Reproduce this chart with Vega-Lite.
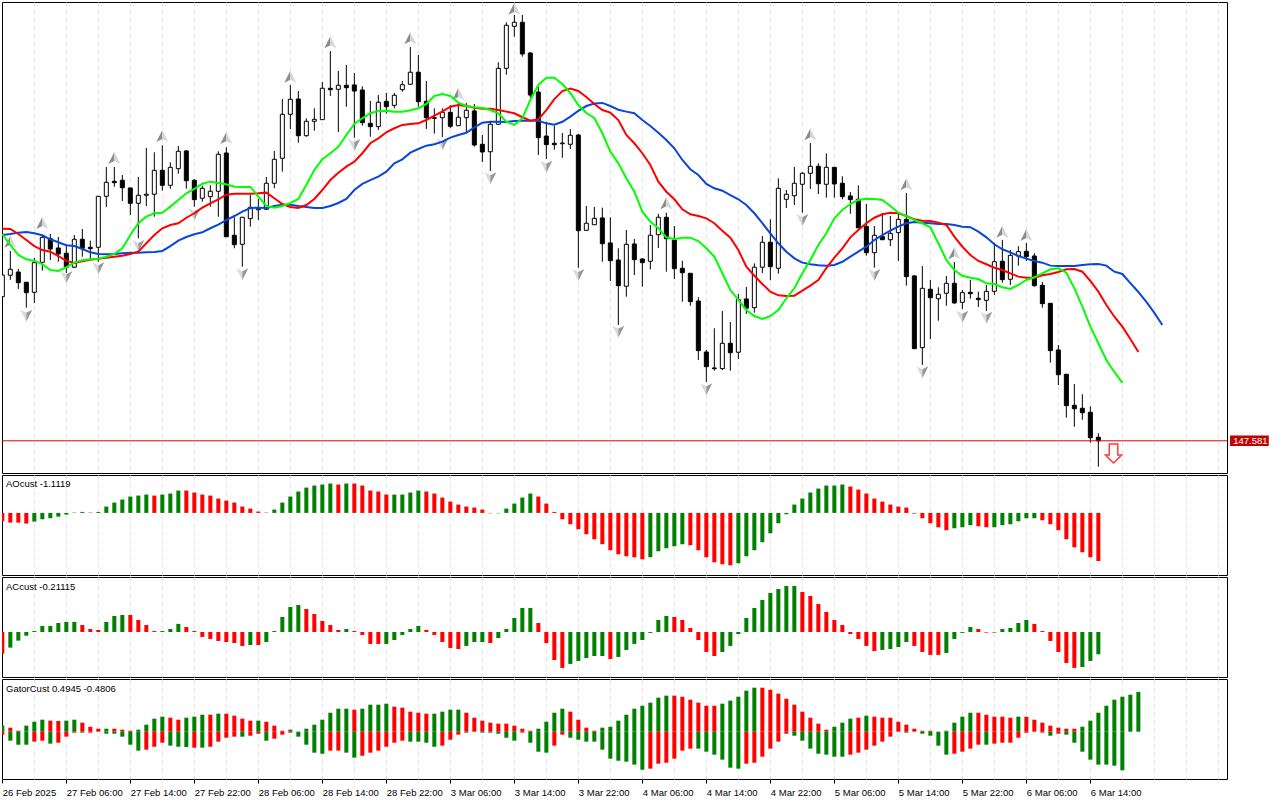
{
"$schema":"https://vega.github.io/schema/vega-lite/v6.json",
"padding":{"left":1,"top":1,"right":0,"bottom":0},
"background":"white",
"spacing":2,
"bounds":"flush",
"config":{"view":{"stroke":"#000000","strokeWidth":1,"fill":"white"},"font":"Liberation Sans","axis":{"labelFont":"Liberation Sans","labelFontSize":9.5,"labelColor":"#000000","gridColor":"#e4e4e4","gridDash":[4,4],"gridWidth":1,"tickColor":"#000000","domain":false,"title":null,"labelOverlap":false,"labelBound":false,"labelFlush":false}},
"datasets":{
"candles":[
{"i":0,"o":148.839,"h":149.054,"l":148.827,"c":149.028},{"i":1,"o":149.026,"h":149.238,"l":148.985,"c":149.078},{"i":2,"o":149.054,"h":149.081,"l":148.906,"c":148.961},{"i":3,"o":148.965,"h":148.967,"l":148.743,"c":148.874},{"i":4,"o":148.877,"h":149.177,"l":148.784,"c":149.136},{"i":5,"o":149.139,"h":149.377,"l":149.066,"c":149.357},{"i":6,"o":149.345,"h":149.386,"l":149.159,"c":149.255},{"i":7,"o":149.264,"h":149.36,"l":149.144,"c":149.212},{"i":8,"o":149.218,"h":149.281,"l":149.046,"c":149.096},{"i":9,"o":149.096,"h":149.377,"l":149.089,"c":149.34},
{"i":10,"o":149.34,"h":149.43,"l":149.188,"c":149.261},{"i":11,"o":149.27,"h":149.328,"l":149.159,"c":149.258},{"i":12,"o":149.27,"h":149.718,"l":149.144,"c":149.715},{"i":13,"o":149.715,"h":149.971,"l":149.622,"c":149.837},{"i":14,"o":149.846,"h":149.971,"l":149.799,"c":149.834},{"i":15,"o":149.855,"h":149.901,"l":149.674,"c":149.79},{"i":16,"o":149.788,"h":149.788,"l":149.552,"c":149.654},{"i":17,"o":149.654,"h":149.884,"l":149.349,"c":149.724},{"i":18,"o":149.724,"h":150.137,"l":149.63,"c":149.733},{"i":19,"o":149.733,"h":150.099,"l":149.537,"c":149.942},
{"i":20,"o":149.942,"h":150.16,"l":149.764,"c":149.811},{"i":21,"o":149.811,"h":150.012,"l":149.781,"c":149.968},{"i":22,"o":149.956,"h":150.154,"l":149.912,"c":150.108},{"i":23,"o":150.111,"h":150.119,"l":149.782,"c":149.851},{"i":24,"o":149.855,"h":149.864,"l":149.624,"c":149.686},{"i":25,"o":149.698,"h":149.808,"l":149.668,"c":149.785},{"i":26,"o":149.712,"h":149.811,"l":149.624,"c":149.759},{"i":27,"o":149.759,"h":150.108,"l":149.537,"c":150.082},{"i":28,"o":150.093,"h":150.143,"l":149.36,"c":149.362},{"i":29,"o":149.375,"h":149.532,"l":149.261,"c":149.293},
{"i":30,"o":149.296,"h":149.535,"l":149.101,"c":149.532},{"i":31,"o":149.52,"h":149.727,"l":149.45,"c":149.619},{"i":32,"o":149.598,"h":149.692,"l":149.508,"c":149.607},{"i":33,"o":149.602,"h":149.884,"l":149.596,"c":149.829},{"i":34,"o":149.829,"h":150.111,"l":149.785,"c":150.038},{"i":35,"o":150.047,"h":150.564,"l":149.93,"c":150.431},{"i":36,"o":150.431,"h":150.687,"l":150.303,"c":150.562},{"i":37,"o":150.564,"h":150.634,"l":150.183,"c":150.244},{"i":38,"o":150.244,"h":150.396,"l":150.235,"c":150.37},{"i":39,"o":150.37,"h":150.483,"l":150.288,"c":150.387},
{"i":40,"o":150.384,"h":150.713,"l":150.381,"c":150.658},{"i":41,"o":150.658,"h":150.983,"l":150.591,"c":150.646},{"i":42,"o":150.649,"h":150.809,"l":150.276,"c":150.684},{"i":43,"o":150.684,"h":150.861,"l":150.497,"c":150.663},{"i":44,"o":150.687,"h":150.791,"l":150.227,"c":150.634},{"i":45,"o":150.643,"h":150.675,"l":150.331,"c":150.358},{"i":46,"o":150.352,"h":150.547,"l":150.235,"c":150.323},{"i":47,"o":150.323,"h":150.599,"l":150.294,"c":150.536},{"i":48,"o":150.544,"h":150.617,"l":150.436,"c":150.497},{"i":49,"o":150.509,"h":150.617,"l":150.483,"c":150.597},
{"i":50,"o":150.646,"h":150.721,"l":150.628,"c":150.689},{"i":51,"o":150.693,"h":151.018,"l":150.689,"c":150.798},{"i":52,"o":150.798,"h":150.948,"l":150.497,"c":150.541},{"i":53,"o":150.544,"h":150.721,"l":150.303,"c":150.401},{"i":54,"o":150.401,"h":150.483,"l":150.262,"c":150.396},{"i":55,"o":150.401,"h":150.483,"l":150.233,"c":150.448},{"i":56,"o":150.448,"h":150.512,"l":150.309,"c":150.326},{"i":57,"o":150.331,"h":150.53,"l":150.329,"c":150.405},{"i":58,"o":150.401,"h":150.53,"l":150.276,"c":150.466},{"i":59,"o":150.46,"h":150.521,"l":150.148,"c":150.163},
{"i":60,"o":150.169,"h":150.25,"l":150.015,"c":150.102},{"i":61,"o":150.104,"h":150.366,"l":149.936,"c":150.344},{"i":62,"o":150.344,"h":150.885,"l":150.338,"c":150.832},{"i":63,"o":150.832,"h":151.234,"l":150.776,"c":151.208},{"i":64,"o":151.199,"h":151.298,"l":151.108,"c":151.234},{"i":65,"o":151.234,"h":151.298,"l":150.934,"c":150.957},{"i":66,"o":150.966,"h":150.972,"l":150.576,"c":150.599},{"i":67,"o":150.625,"h":150.672,"l":150.076,"c":150.227},{"i":68,"o":150.241,"h":150.366,"l":150.041,"c":150.166},{"i":69,"o":150.178,"h":150.331,"l":150.122,"c":150.166},
{"i":70,"o":150.174,"h":150.268,"l":150.051,"c":150.18},{"i":71,"o":150.169,"h":150.303,"l":150.128,"c":150.248},{"i":72,"o":150.25,"h":150.259,"l":149.092,"c":149.415},{"i":73,"o":149.418,"h":149.631,"l":149.415,"c":149.48},{"i":74,"o":149.467,"h":149.622,"l":149.465,"c":149.523},{"i":75,"o":149.526,"h":149.616,"l":149.144,"c":149.301},{"i":76,"o":149.308,"h":149.532,"l":148.976,"c":149.153},{"i":77,"o":149.159,"h":149.261,"l":148.592,"c":148.935},{"i":78,"o":148.93,"h":149.421,"l":148.839,"c":149.296},{"i":79,"o":149.299,"h":149.343,"l":149.028,"c":149.162},
{"i":80,"o":149.168,"h":149.174,"l":148.926,"c":149.136},{"i":81,"o":149.148,"h":149.465,"l":149.078,"c":149.375},{"i":82,"o":149.38,"h":149.561,"l":149.264,"c":149.532},{"i":83,"o":149.532,"h":149.572,"l":149.057,"c":149.345},{"i":84,"o":149.334,"h":149.456,"l":148.993,"c":149.083},{"i":85,"o":149.087,"h":149.153,"l":148.795,"c":149.048},{"i":86,"o":149.043,"h":149.046,"l":148.76,"c":148.796},{"i":87,"o":148.801,"h":148.834,"l":148.286,"c":148.368},{"i":88,"o":148.356,"h":148.374,"l":148.094,"c":148.228},{"i":89,"o":148.217,"h":148.563,"l":148.193,"c":148.211},
{"i":90,"o":148.211,"h":148.714,"l":148.199,"c":148.432},{"i":91,"o":148.432,"h":148.618,"l":148.193,"c":148.35},{"i":92,"o":148.354,"h":148.862,"l":148.295,"c":148.813},{"i":93,"o":148.819,"h":148.924,"l":148.688,"c":148.738},{"i":94,"o":148.743,"h":149.13,"l":148.699,"c":149.096},{"i":95,"o":149.096,"h":149.369,"l":149.046,"c":149.314},{"i":96,"o":149.314,"h":149.514,"l":148.982,"c":149.101},{"i":97,"o":149.087,"h":149.872,"l":149.04,"c":149.785},{"i":98,"o":149.689,"h":149.77,"l":149.613,"c":149.733},{"i":99,"o":149.72,"h":149.971,"l":149.639,"c":149.829},
{"i":100,"o":149.82,"h":149.925,"l":149.572,"c":149.916},{"i":101,"o":149.916,"h":150.18,"l":149.779,"c":149.977},{"i":102,"o":149.977,"h":150.003,"l":149.735,"c":149.825},{"i":103,"o":149.82,"h":150.09,"l":149.703,"c":149.968},{"i":104,"o":149.968,"h":149.971,"l":149.703,"c":149.823},{"i":105,"o":149.829,"h":149.89,"l":149.689,"c":149.712},{"i":106,"o":149.718,"h":149.753,"l":149.563,"c":149.686},{"i":107,"o":149.689,"h":149.811,"l":149.439,"c":149.439},{"i":108,"o":149.453,"h":149.648,"l":149.197,"c":149.223},{"i":109,"o":149.223,"h":149.456,"l":149.092,"c":149.375},
{"i":110,"o":149.363,"h":149.569,"l":149.336,"c":149.336},{"i":111,"o":149.336,"h":149.543,"l":149.281,"c":149.392},{"i":112,"o":149.398,"h":149.578,"l":149.151,"c":149.514},{"i":113,"o":149.514,"h":149.744,"l":148.935,"c":149.014},{"i":114,"o":149.02,"h":149.026,"l":148.382,"c":148.385},{"i":115,"o":148.394,"h":149.107,"l":148.243,"c":148.912},{"i":116,"o":148.904,"h":148.985,"l":148.47,"c":148.83},{"i":117,"o":148.821,"h":148.921,"l":148.629,"c":148.86},{"i":118,"o":148.869,"h":149.02,"l":148.76,"c":148.956},{"i":119,"o":148.956,"h":149.142,"l":148.778,"c":148.784},
{"i":120,"o":148.79,"h":148.897,"l":148.732,"c":148.874},{"i":121,"o":148.877,"h":148.985,"l":148.822,"c":148.865},{"i":122,"o":148.825,"h":148.883,"l":148.749,"c":148.813},{"i":123,"o":148.807,"h":148.941,"l":148.714,"c":148.886},{"i":124,"o":148.886,"h":149.31,"l":148.854,"c":149.144},{"i":125,"o":149.148,"h":149.334,"l":148.961,"c":148.988},{"i":126,"o":148.991,"h":149.246,"l":148.941,"c":149.2},{"i":127,"o":149.194,"h":149.279,"l":149.11,"c":149.232},{"i":128,"o":149.235,"h":149.308,"l":149.151,"c":149.188},{"i":129,"o":149.194,"h":149.218,"l":148.926,"c":148.935},
{"i":130,"o":148.938,"h":148.967,"l":148.743,"c":148.778},{"i":131,"o":148.781,"h":148.784,"l":148.263,"c":148.368},{"i":132,"o":148.374,"h":148.417,"l":148.068,"c":148.158},{"i":133,"o":148.162,"h":148.164,"l":147.783,"c":147.888},{"i":134,"o":147.891,"h":148.077,"l":147.704,"c":147.861},{"i":135,"o":147.865,"h":147.987,"l":147.765,"c":147.826},{"i":136,"o":147.83,"h":147.882,"l":147.565,"c":147.608},{"i":137,"o":147.612,"h":147.647,"l":147.355,"c":147.581}
],
"ma":[
{"i":0,"jaw":149.377,"teeth":149.432,"lips":149.384},{"i":1,"jaw":149.386,"teeth":149.43,"lips":149.29},{"i":2,"jaw":149.398,"teeth":149.386,"lips":149.203},{"i":3,"jaw":149.404,"teeth":149.334,"lips":149.165},{"i":4,"jaw":149.392,"teeth":149.281,"lips":149.151},{"i":5,"jaw":149.375,"teeth":149.246,"lips":149.124},{"i":6,"jaw":149.34,"teeth":149.232,"lips":149.072},{"i":7,"jaw":149.314,"teeth":149.194,"lips":149.063},{"i":8,"jaw":149.288,"teeth":149.151,"lips":149.096},{"i":9,"jaw":149.281,"teeth":149.133,"lips":149.136},
{"i":10,"jaw":149.255,"teeth":149.148,"lips":149.157},{"i":11,"jaw":149.226,"teeth":149.162,"lips":149.165},{"i":12,"jaw":149.212,"teeth":149.171,"lips":149.171},{"i":13,"jaw":149.209,"teeth":149.179,"lips":149.188},{"i":14,"jaw":149.212,"teeth":149.188,"lips":149.212},{"i":15,"jaw":149.218,"teeth":149.197,"lips":149.261},{"i":16,"jaw":149.223,"teeth":149.212,"lips":149.377},{"i":17,"jaw":149.223,"teeth":149.232,"lips":149.48},{"i":18,"jaw":149.226,"teeth":149.305,"lips":149.537},{"i":19,"jaw":149.229,"teeth":149.377,"lips":149.567},
{"i":20,"jaw":149.238,"teeth":149.436,"lips":149.572},{"i":21,"jaw":149.281,"teeth":149.465,"lips":149.625},{"i":22,"jaw":149.328,"teeth":149.48,"lips":149.683},{"i":23,"jaw":149.36,"teeth":149.528,"lips":149.741},{"i":24,"jaw":149.384,"teeth":149.567,"lips":149.779},{"i":25,"jaw":149.401,"teeth":149.616,"lips":149.825},{"i":26,"jaw":149.436,"teeth":149.654,"lips":149.843},{"i":27,"jaw":149.467,"teeth":149.689,"lips":149.831},{"i":28,"jaw":149.508,"teeth":149.729,"lips":149.82},{"i":29,"jaw":149.543,"teeth":149.738,"lips":149.799},
{"i":30,"jaw":149.581,"teeth":149.738,"lips":149.796},{"i":31,"jaw":149.613,"teeth":149.738,"lips":149.799},{"i":32,"jaw":149.616,"teeth":149.741,"lips":149.712},{"i":33,"jaw":149.613,"teeth":149.747,"lips":149.631},{"i":34,"jaw":149.631,"teeth":149.698,"lips":149.616},{"i":35,"jaw":149.642,"teeth":149.648,"lips":149.631},{"i":36,"jaw":149.642,"teeth":149.622,"lips":149.657},{"i":37,"jaw":149.631,"teeth":149.613,"lips":149.692},{"i":38,"jaw":149.622,"teeth":149.639,"lips":149.814},{"i":39,"jaw":149.613,"teeth":149.692,"lips":149.945},
{"i":40,"jaw":149.613,"teeth":149.77,"lips":150.038},{"i":41,"jaw":149.631,"teeth":149.857,"lips":150.091},{"i":42,"jaw":149.657,"teeth":149.921,"lips":150.148},{"i":43,"jaw":149.692,"teeth":149.974,"lips":150.25},{"i":44,"jaw":149.77,"teeth":150.017,"lips":150.346},{"i":45,"jaw":149.823,"teeth":150.091,"lips":150.396},{"i":46,"jaw":149.857,"teeth":150.178,"lips":150.44},{"i":47,"jaw":149.886,"teeth":150.221,"lips":150.46},{"i":48,"jaw":149.93,"teeth":150.274,"lips":150.462},{"i":49,"jaw":150.003,"teeth":150.309,"lips":150.454},
{"i":50,"jaw":150.038,"teeth":150.338,"lips":150.454},{"i":51,"jaw":150.096,"teeth":150.346,"lips":150.466},{"i":52,"jaw":150.128,"teeth":150.352,"lips":150.483},{"i":53,"jaw":150.157,"teeth":150.381,"lips":150.521},{"i":54,"jaw":150.169,"teeth":150.419,"lips":150.591},{"i":55,"jaw":150.192,"teeth":150.454,"lips":150.608},{"i":56,"jaw":150.227,"teeth":150.497,"lips":150.591},{"i":57,"jaw":150.25,"teeth":150.512,"lips":150.532},{"i":58,"jaw":150.27,"teeth":150.503,"lips":150.503},{"i":59,"jaw":150.317,"teeth":150.488,"lips":150.492},
{"i":60,"jaw":150.358,"teeth":150.48,"lips":150.486},{"i":61,"jaw":150.366,"teeth":150.48,"lips":150.468},{"i":62,"jaw":150.366,"teeth":150.468,"lips":150.44},{"i":63,"jaw":150.364,"teeth":150.454,"lips":150.366},{"i":64,"jaw":150.372,"teeth":150.44,"lips":150.338},{"i":65,"jaw":150.375,"teeth":150.405,"lips":150.396},{"i":66,"jaw":150.375,"teeth":150.375,"lips":150.556},{"i":67,"jaw":150.375,"teeth":150.387,"lips":150.687},{"i":68,"jaw":150.352,"teeth":150.468,"lips":150.75},{"i":69,"jaw":150.34,"teeth":150.564,"lips":150.75},
{"i":70,"jaw":150.366,"teeth":150.634,"lips":150.695},{"i":71,"jaw":150.41,"teeth":150.656,"lips":150.617},{"i":72,"jaw":150.46,"teeth":150.634,"lips":150.512},{"i":73,"jaw":150.503,"teeth":150.582,"lips":150.442},{"i":74,"jaw":150.525,"teeth":150.521,"lips":150.399},{"i":75,"jaw":150.53,"teeth":150.468,"lips":150.265},{"i":76,"jaw":150.503,"teeth":150.445,"lips":150.105},{"i":77,"jaw":150.471,"teeth":150.381,"lips":150.003},{"i":78,"jaw":150.454,"teeth":150.25,"lips":149.872},{"i":79,"jaw":150.44,"teeth":150.178,"lips":149.755},
{"i":80,"jaw":150.381,"teeth":150.091,"lips":149.581},{"i":81,"jaw":150.329,"teeth":149.988,"lips":149.494},{"i":82,"jaw":150.27,"teeth":149.843,"lips":149.436},{"i":83,"jaw":150.207,"teeth":149.755,"lips":149.357},{"i":84,"jaw":150.134,"teeth":149.689,"lips":149.343},{"i":85,"jaw":150.032,"teeth":149.602,"lips":149.354},{"i":86,"jaw":149.951,"teeth":149.558,"lips":149.354},{"i":87,"jaw":149.901,"teeth":149.543,"lips":149.325},{"i":88,"jaw":149.823,"teeth":149.523,"lips":149.261},{"i":89,"jaw":149.785,"teeth":149.48,"lips":149.188},
{"i":90,"jaw":149.764,"teeth":149.415,"lips":149.043},{"i":91,"jaw":149.726,"teeth":149.354,"lips":148.897},{"i":92,"jaw":149.689,"teeth":149.246,"lips":148.81},{"i":93,"jaw":149.639,"teeth":149.101,"lips":148.723},{"i":94,"jaw":149.567,"teeth":149.022,"lips":148.67},{"i":95,"jaw":149.48,"teeth":148.95,"lips":148.644},{"i":96,"jaw":149.392,"teeth":148.883,"lips":148.67},{"i":97,"jaw":149.305,"teeth":148.851,"lips":148.723},{"i":98,"jaw":149.232,"teeth":148.845,"lips":148.825},{"i":99,"jaw":149.174,"teeth":148.848,"lips":148.912},
{"i":100,"jaw":149.136,"teeth":148.891,"lips":149.043},{"i":101,"jaw":149.122,"teeth":148.935,"lips":149.159},{"i":102,"jaw":149.113,"teeth":148.985,"lips":149.29},{"i":103,"jaw":149.11,"teeth":149.089,"lips":149.392},{"i":104,"jaw":149.116,"teeth":149.179,"lips":149.523},{"i":105,"jaw":149.144,"teeth":149.261,"lips":149.596},{"i":106,"jaw":149.188,"teeth":149.357,"lips":149.648},{"i":107,"jaw":149.232,"teeth":149.421,"lips":149.683},{"i":108,"jaw":149.275,"teeth":149.48,"lips":149.694},{"i":109,"jaw":149.334,"teeth":149.528,"lips":149.692},
{"i":110,"jaw":149.377,"teeth":149.558,"lips":149.683},{"i":111,"jaw":149.415,"teeth":149.572,"lips":149.631},{"i":112,"jaw":149.45,"teeth":149.567,"lips":149.572},{"i":113,"jaw":149.48,"teeth":149.543,"lips":149.543},{"i":114,"jaw":149.491,"teeth":149.514,"lips":149.508},{"i":115,"jaw":149.485,"teeth":149.502,"lips":149.48},{"i":116,"jaw":149.48,"teeth":149.5,"lips":149.445},{"i":117,"jaw":149.473,"teeth":149.485,"lips":149.305},{"i":118,"jaw":149.473,"teeth":149.465,"lips":149.159},{"i":119,"jaw":149.465,"teeth":149.363,"lips":149.072},
{"i":120,"jaw":149.45,"teeth":149.275,"lips":149.022},{"i":121,"jaw":149.445,"teeth":149.203,"lips":149.005},{"i":122,"jaw":149.406,"teeth":149.151,"lips":148.993},{"i":123,"jaw":149.357,"teeth":149.122,"lips":148.956},{"i":124,"jaw":149.296,"teeth":149.092,"lips":148.95},{"i":125,"jaw":149.253,"teeth":149.072,"lips":148.921},{"i":126,"jaw":149.226,"teeth":149.043,"lips":148.906},{"i":127,"jaw":149.194,"teeth":149.014,"lips":148.941},{"i":128,"jaw":149.171,"teeth":149.005,"lips":148.985},{"i":129,"jaw":149.151,"teeth":149.005,"lips":149.008},
{"i":130,"jaw":149.136,"teeth":149.026,"lips":149.043},{"i":131,"jaw":149.11,"teeth":149.037,"lips":149.078},{"i":132,"jaw":149.107,"teeth":149.055,"lips":149.087},{"i":133,"jaw":149.107,"teeth":149.078,"lips":149.048},{"i":134,"jaw":149.107,"teeth":149.081,"lips":148.912},{"i":135,"jaw":149.116,"teeth":149.057,"lips":148.752},{"i":136,"jaw":149.122,"teeth":148.976,"lips":148.577},{"i":137,"jaw":149.124,"teeth":148.883,"lips":148.432},{"i":138,"jaw":149.11,"teeth":148.766,"lips":148.286},{"i":139,"jaw":149.057,"teeth":148.664,"lips":148.182},
{"i":140,"jaw":149.037,"teeth":148.577,"lips":148.086},{"i":141,"jaw":148.958,"teeth":148.47},{"i":142,"jaw":148.88,"teeth":148.356},{"i":143,"jaw":148.793},{"i":144,"jaw":148.697},{"i":145,"jaw":148.592}
],
"fractalUp":[{"i":1,"p":149.319},{"i":5,"p":149.482},{"i":14,"p":150.049},{"i":20,"p":150.241},{"i":28,"p":150.224},{"i":36,"p":150.759},{"i":41,"p":151.059},{"i":51,"p":151.094},{"i":57,"p":150.608},{"i":64,"p":151.353},{"i":83,"p":149.654},{"i":101,"p":150.256},{"i":113,"p":149.82},{"i":119,"p":149.218},{"i":125,"p":149.406},{"i":128,"p":149.377}],
"fractalDown":[{"i":3,"p":148.673},{"i":8,"p":149.008},{"i":12,"p":149.087},{"i":17,"p":149.281},{"i":24,"p":149.558},{"i":30,"p":149.034},{"i":44,"p":150.163},{"i":55,"p":150.169},{"i":61,"p":149.872},{"i":68,"p":149.974},{"i":72,"p":149.028},{"i":77,"p":148.533},{"i":88,"p":148.031},{"i":100,"p":149.508},{"i":109,"p":149.028},{"i":115,"p":148.179},{"i":120,"p":148.664},{"i":123,"p":148.656}],
"last":[{"i0":153.46,"i1":158.3,"i":153.85,"lo":147.535,"hi":147.628,"p":147.581,"t":"147.581"}],
"signal":[{"i":138.9,"p":147.47}],
"aoTitle":[{"i":0.46,"v":0.669,"t":"AOcust -1.1119"}],
"acTitle":[{"i":0.46,"v":0.428,"t":"ACcust -0.21115"}],
"gatorTitle":[{"i":0.46,"v":0.535,"t":"GatorCust 0.4945 -0.4806"}],
"zero":[{"v":0}],
"ao":[
{"i":0,"v":-0.193,"d":"down"},{"i":1,"v":-0.224,"d":"down"},{"i":2,"v":-0.224,"d":"down"},{"i":3,"v":-0.247,"d":"down"},{"i":4,"v":-0.201,"d":"up"},{"i":5,"v":-0.147,"d":"up"},{"i":6,"v":-0.123,"d":"up"},{"i":7,"v":-0.085,"d":"up"},{"i":8,"v":-0.039,"d":"up"},{"i":9,"v":0.008,"d":"up"},
{"i":10,"v":0.023,"d":"up"},{"i":11,"v":0.008,"d":"down"},{"i":12,"v":0.023,"d":"up"},{"i":13,"v":0.147,"d":"up"},{"i":14,"v":0.239,"d":"up"},{"i":15,"v":0.309,"d":"up"},{"i":16,"v":0.378,"d":"up"},{"i":17,"v":0.401,"d":"up"},{"i":18,"v":0.424,"d":"up"},{"i":19,"v":0.401,"d":"down"},
{"i":20,"v":0.424,"d":"up"},{"i":21,"v":0.448,"d":"up"},{"i":22,"v":0.517,"d":"up"},{"i":23,"v":0.517,"d":"down"},{"i":24,"v":0.471,"d":"down"},{"i":25,"v":0.424,"d":"down"},{"i":26,"v":0.401,"d":"down"},{"i":27,"v":0.332,"d":"down"},{"i":28,"v":0.285,"d":"down"},{"i":29,"v":0.239,"d":"down"},
{"i":30,"v":0.147,"d":"down"},{"i":31,"v":0.1,"d":"down"},{"i":32,"v":0.031,"d":"down"},{"i":33,"v":0.008,"d":"down"},{"i":34,"v":0.077,"d":"up"},{"i":35,"v":0.239,"d":"up"},{"i":36,"v":0.378,"d":"up"},{"i":37,"v":0.494,"d":"up"},{"i":38,"v":0.586,"d":"up"},{"i":39,"v":0.633,"d":"up"},
{"i":40,"v":0.656,"d":"up"},{"i":41,"v":0.679,"d":"up"},{"i":42,"v":0.656,"d":"down"},{"i":43,"v":0.679,"d":"up"},{"i":44,"v":0.679,"d":"down"},{"i":45,"v":0.633,"d":"down"},{"i":46,"v":0.517,"d":"down"},{"i":47,"v":0.494,"d":"down"},{"i":48,"v":0.424,"d":"down"},{"i":49,"v":0.424,"d":"up"},
{"i":50,"v":0.424,"d":"up"},{"i":51,"v":0.471,"d":"up"},{"i":52,"v":0.517,"d":"up"},{"i":53,"v":0.494,"d":"down"},{"i":54,"v":0.448,"d":"down"},{"i":55,"v":0.355,"d":"down"},{"i":56,"v":0.262,"d":"down"},{"i":57,"v":0.193,"d":"down"},{"i":58,"v":0.147,"d":"down"},{"i":59,"v":0.123,"d":"down"},
{"i":60,"v":0.077,"d":"down"},{"i":61,"v":-0.008,"d":"down"},{"i":62,"v":-0.008,"d":"up"},{"i":63,"v":0.1,"d":"up"},{"i":64,"v":0.216,"d":"up"},{"i":65,"v":0.355,"d":"up"},{"i":66,"v":0.448,"d":"up"},{"i":67,"v":0.378,"d":"down"},{"i":68,"v":0.216,"d":"down"},{"i":69,"v":0.023,"d":"down"},
{"i":70,"v":-0.147,"d":"down"},{"i":71,"v":-0.262,"d":"down"},{"i":72,"v":-0.378,"d":"down"},{"i":73,"v":-0.494,"d":"down"},{"i":74,"v":-0.61,"d":"down"},{"i":75,"v":-0.725,"d":"down"},{"i":76,"v":-0.864,"d":"down"},{"i":77,"v":-0.957,"d":"down"},{"i":78,"v":-1.003,"d":"down"},{"i":79,"v":-1.026,"d":"down"},
{"i":80,"v":-1.073,"d":"down"},{"i":81,"v":-1.026,"d":"up"},{"i":82,"v":-0.887,"d":"up"},{"i":83,"v":-0.818,"d":"up"},{"i":84,"v":-0.772,"d":"up"},{"i":85,"v":-0.725,"d":"up"},{"i":86,"v":-0.748,"d":"down"},{"i":87,"v":-0.864,"d":"down"},{"i":88,"v":-1.026,"d":"down"},{"i":89,"v":-1.142,"d":"down"},
{"i":90,"v":-1.188,"d":"down"},{"i":91,"v":-1.211,"d":"down"},{"i":92,"v":-1.165,"d":"up"},{"i":93,"v":-1.003,"d":"up"},{"i":94,"v":-0.864,"d":"up"},{"i":95,"v":-0.679,"d":"up"},{"i":96,"v":-0.471,"d":"up"},{"i":97,"v":-0.239,"d":"up"},{"i":98,"v":-0.031,"d":"up"},{"i":99,"v":0.193,"d":"up"},
{"i":100,"v":0.332,"d":"up"},{"i":101,"v":0.471,"d":"up"},{"i":102,"v":0.563,"d":"up"},{"i":103,"v":0.633,"d":"up"},{"i":104,"v":0.633,"d":"up"},{"i":105,"v":0.656,"d":"up"},{"i":106,"v":0.61,"d":"down"},{"i":107,"v":0.54,"d":"down"},{"i":108,"v":0.448,"d":"down"},{"i":109,"v":0.332,"d":"down"},
{"i":110,"v":0.262,"d":"down"},{"i":111,"v":0.193,"d":"down"},{"i":112,"v":0.147,"d":"down"},{"i":113,"v":0.123,"d":"down"},{"i":114,"v":-0.015,"d":"down"},{"i":115,"v":-0.123,"d":"down"},{"i":116,"v":-0.239,"d":"down"},{"i":117,"v":-0.332,"d":"down"},{"i":118,"v":-0.401,"d":"down"},{"i":119,"v":-0.355,"d":"up"},
{"i":120,"v":-0.332,"d":"up"},{"i":121,"v":-0.285,"d":"up"},{"i":122,"v":-0.309,"d":"down"},{"i":123,"v":-0.332,"d":"down"},{"i":124,"v":-0.332,"d":"up"},{"i":125,"v":-0.285,"d":"up"},{"i":126,"v":-0.262,"d":"up"},{"i":127,"v":-0.193,"d":"up"},{"i":128,"v":-0.123,"d":"up"},{"i":129,"v":-0.123,"d":"up"},
{"i":130,"v":-0.17,"d":"down"},{"i":131,"v":-0.262,"d":"down"},{"i":132,"v":-0.401,"d":"down"},{"i":133,"v":-0.61,"d":"down"},{"i":134,"v":-0.795,"d":"down"},{"i":135,"v":-0.91,"d":"down"},{"i":136,"v":-1.026,"d":"down"},{"i":137,"v":-1.1119,"d":"down"}
],
"ac":[
{"i":0,"v":-0.205,"d":"down"},{"i":1,"v":-0.148,"d":"up"},{"i":2,"v":-0.082,"d":"up"},{"i":3,"v":-0.035,"d":"up"},{"i":4,"v":0.009,"d":"up"},{"i":5,"v":0.057,"d":"up"},{"i":6,"v":0.057,"d":"up"},{"i":7,"v":0.085,"d":"up"},{"i":8,"v":0.095,"d":"up"},{"i":9,"v":0.095,"d":"up"},
{"i":10,"v":0.066,"d":"down"},{"i":11,"v":0.028,"d":"down"},{"i":12,"v":0.019,"d":"down"},{"i":13,"v":0.095,"d":"up"},{"i":14,"v":0.151,"d":"up"},{"i":15,"v":0.161,"d":"up"},{"i":16,"v":0.161,"d":"down"},{"i":17,"v":0.113,"d":"down"},{"i":18,"v":0.066,"d":"down"},{"i":19,"v":0.009,"d":"down"},
{"i":20,"v":0.009,"d":"up"},{"i":21,"v":0.028,"d":"up"},{"i":22,"v":0.076,"d":"up"},{"i":23,"v":0.047,"d":"down"},{"i":24,"v":0.009,"d":"down"},{"i":25,"v":-0.047,"d":"down"},{"i":26,"v":-0.066,"d":"down"},{"i":27,"v":-0.085,"d":"down"},{"i":28,"v":-0.095,"d":"down"},{"i":29,"v":-0.104,"d":"down"},
{"i":30,"v":-0.132,"d":"down"},{"i":31,"v":-0.123,"d":"up"},{"i":32,"v":-0.123,"d":"down"},{"i":33,"v":-0.095,"d":"up"},{"i":34,"v":0.009,"d":"up"},{"i":35,"v":0.142,"d":"up"},{"i":36,"v":0.236,"d":"up"},{"i":37,"v":0.255,"d":"up"},{"i":38,"v":0.217,"d":"down"},{"i":39,"v":0.17,"d":"down"},
{"i":40,"v":0.104,"d":"down"},{"i":41,"v":0.066,"d":"down"},{"i":42,"v":0.019,"d":"down"},{"i":43,"v":0.028,"d":"up"},{"i":44,"v":0.009,"d":"down"},{"i":45,"v":-0.028,"d":"down"},{"i":46,"v":-0.113,"d":"down"},{"i":47,"v":-0.113,"d":"down"},{"i":48,"v":-0.113,"d":"up"},{"i":49,"v":-0.076,"d":"up"},
{"i":50,"v":-0.028,"d":"up"},{"i":51,"v":0.028,"d":"up"},{"i":52,"v":0.057,"d":"up"},{"i":53,"v":0.019,"d":"down"},{"i":54,"v":-0.028,"d":"down"},{"i":55,"v":-0.095,"d":"down"},{"i":56,"v":-0.151,"d":"down"},{"i":57,"v":-0.161,"d":"down"},{"i":58,"v":-0.132,"d":"up"},{"i":59,"v":-0.095,"d":"up"},
{"i":60,"v":-0.095,"d":"up"},{"i":61,"v":-0.104,"d":"down"},{"i":62,"v":-0.057,"d":"up"},{"i":63,"v":0.028,"d":"up"},{"i":64,"v":0.132,"d":"up"},{"i":65,"v":0.227,"d":"up"},{"i":66,"v":0.227,"d":"up"},{"i":67,"v":0.085,"d":"down"},{"i":68,"v":-0.104,"d":"down"},{"i":69,"v":-0.265,"d":"down"},
{"i":70,"v":-0.34,"d":"down"},{"i":71,"v":-0.302,"d":"up"},{"i":72,"v":-0.274,"d":"up"},{"i":73,"v":-0.246,"d":"up"},{"i":74,"v":-0.227,"d":"up"},{"i":75,"v":-0.227,"d":"up"},{"i":76,"v":-0.255,"d":"down"},{"i":77,"v":-0.236,"d":"up"},{"i":78,"v":-0.17,"d":"up"},{"i":79,"v":-0.113,"d":"up"},
{"i":80,"v":-0.076,"d":"up"},{"i":81,"v":-0.009,"d":"up"},{"i":82,"v":0.113,"d":"up"},{"i":83,"v":0.151,"d":"up"},{"i":84,"v":0.142,"d":"down"},{"i":85,"v":0.113,"d":"down"},{"i":86,"v":0.038,"d":"down"},{"i":87,"v":-0.076,"d":"down"},{"i":88,"v":-0.189,"d":"down"},{"i":89,"v":-0.227,"d":"down"},
{"i":90,"v":-0.189,"d":"up"},{"i":91,"v":-0.132,"d":"up"},{"i":92,"v":-0.019,"d":"up"},{"i":93,"v":0.132,"d":"up"},{"i":94,"v":0.227,"d":"up"},{"i":95,"v":0.302,"d":"up"},{"i":96,"v":0.369,"d":"up"},{"i":97,"v":0.406,"d":"up"},{"i":98,"v":0.435,"d":"up"},{"i":99,"v":0.435,"d":"up"},
{"i":100,"v":0.378,"d":"down"},{"i":101,"v":0.34,"d":"down"},{"i":102,"v":0.265,"d":"down"},{"i":103,"v":0.189,"d":"down"},{"i":104,"v":0.113,"d":"down"},{"i":105,"v":0.066,"d":"down"},{"i":106,"v":-0.019,"d":"down"},{"i":107,"v":-0.066,"d":"down"},{"i":108,"v":-0.132,"d":"down"},{"i":109,"v":-0.18,"d":"down"},
{"i":110,"v":-0.17,"d":"up"},{"i":111,"v":-0.161,"d":"up"},{"i":112,"v":-0.142,"d":"up"},{"i":113,"v":-0.095,"d":"up"},{"i":114,"v":-0.132,"d":"down"},{"i":115,"v":-0.189,"d":"down"},{"i":116,"v":-0.217,"d":"down"},{"i":117,"v":-0.217,"d":"down"},{"i":118,"v":-0.198,"d":"up"},{"i":119,"v":-0.066,"d":"up"},
{"i":120,"v":-0.009,"d":"up"},{"i":121,"v":0.047,"d":"up"},{"i":122,"v":0.028,"d":"down"},{"i":123,"v":-0.006,"d":"down"},{"i":124,"v":-0.006,"d":"up"},{"i":125,"v":0.028,"d":"up"},{"i":126,"v":0.038,"d":"up"},{"i":127,"v":0.085,"d":"up"},{"i":128,"v":0.113,"d":"up"},{"i":129,"v":0.076,"d":"down"},
{"i":130,"v":0.009,"d":"down"},{"i":131,"v":-0.085,"d":"down"},{"i":132,"v":-0.189,"d":"down"},{"i":133,"v":-0.293,"d":"down"},{"i":134,"v":-0.34,"d":"down"},{"i":135,"v":-0.331,"d":"up"},{"i":136,"v":-0.274,"d":"up"},{"i":137,"v":-0.21115,"d":"up"}
],
"gator":[
{"i":0,"v":0.075,"d":"up"},{"i":0,"v":-0.037,"d":"down"},{"i":1,"v":0.05,"d":"down"},{"i":1,"v":-0.112,"d":"up"},{"i":2,"v":0.012,"d":"down"},{"i":2,"v":-0.162,"d":"up"},{"i":3,"v":0.075,"d":"up"},{"i":3,"v":-0.162,"d":"up"},{"i":4,"v":0.124,"d":"up"},{"i":4,"v":-0.124,"d":"down"},
{"i":5,"v":0.149,"d":"up"},{"i":5,"v":-0.112,"d":"down"},{"i":6,"v":0.137,"d":"down"},{"i":6,"v":-0.149,"d":"up"},{"i":7,"v":0.133,"d":"down"},{"i":7,"v":-0.137,"d":"down"},{"i":8,"v":0.137,"d":"up"},{"i":8,"v":-0.062,"d":"down"},{"i":9,"v":0.149,"d":"up"},{"i":9,"v":-0.012,"d":"down"},
{"i":10,"v":0.112,"d":"down"},{"i":10,"v":-0.012,"d":"up"},{"i":11,"v":0.062,"d":"down"},{"i":11,"v":-0.012,"d":"down"},{"i":12,"v":0.037,"d":"down"},{"i":13,"v":0.037,"d":"up"},{"i":13,"v":-0.025,"d":"up"},{"i":14,"v":0.037,"d":"down"},{"i":14,"v":-0.025,"d":"up"},
{"i":15,"v":0.025,"d":"down"},{"i":15,"v":-0.062,"d":"up"},{"i":16,"v":0.012,"d":"down"},{"i":16,"v":-0.162,"d":"up"},{"i":17,"v":0.025,"d":"up"},{"i":17,"v":-0.236,"d":"up"},{"i":18,"v":0.087,"d":"up"},{"i":18,"v":-0.224,"d":"down"},{"i":19,"v":0.162,"d":"up"},{"i":19,"v":-0.187,"d":"down"},
{"i":20,"v":0.187,"d":"up"},{"i":20,"v":-0.137,"d":"down"},{"i":21,"v":0.174,"d":"down"},{"i":21,"v":-0.174,"d":"up"},{"i":22,"v":0.149,"d":"down"},{"i":22,"v":-0.187,"d":"up"},{"i":23,"v":0.174,"d":"up"},{"i":23,"v":-0.191,"d":"up"},{"i":24,"v":0.187,"d":"up"},{"i":24,"v":-0.199,"d":"down"},
{"i":25,"v":0.211,"d":"up"},{"i":25,"v":-0.199,"d":"up"},{"i":26,"v":0.211,"d":"down"},{"i":26,"v":-0.187,"d":"down"},{"i":27,"v":0.224,"d":"up"},{"i":27,"v":-0.124,"d":"down"},{"i":28,"v":0.224,"d":"down"},{"i":28,"v":-0.075,"d":"down"},{"i":29,"v":0.199,"d":"down"},{"i":29,"v":-0.062,"d":"down"},
{"i":30,"v":0.162,"d":"down"},{"i":30,"v":-0.062,"d":"up"},{"i":31,"v":0.137,"d":"down"},{"i":31,"v":-0.05,"d":"down"},{"i":32,"v":0.137,"d":"up"},{"i":32,"v":-0.025,"d":"down"},{"i":33,"v":0.124,"d":"down"},{"i":33,"v":-0.112,"d":"up"},{"i":34,"v":0.075,"d":"down"},{"i":34,"v":-0.087,"d":"down"},
{"i":35,"v":0.012,"d":"down"},{"i":35,"v":-0.037,"d":"down"},{"i":36,"v":0.025,"d":"up"},{"i":36,"v":-0.012,"d":"down"},{"i":37,"v":-0.062,"d":"up"},{"i":38,"v":0.037,"d":"up"},{"i":38,"v":-0.162,"d":"up"},{"i":39,"v":0.087,"d":"up"},{"i":39,"v":-0.261,"d":"up"},
{"i":40,"v":0.149,"d":"up"},{"i":40,"v":-0.274,"d":"up"},{"i":41,"v":0.236,"d":"up"},{"i":41,"v":-0.236,"d":"down"},{"i":42,"v":0.286,"d":"up"},{"i":42,"v":-0.236,"d":"down"},{"i":43,"v":0.286,"d":"up"},{"i":43,"v":-0.261,"d":"up"},{"i":44,"v":0.274,"d":"down"},{"i":44,"v":-0.323,"d":"up"},
{"i":45,"v":0.286,"d":"up"},{"i":45,"v":-0.299,"d":"down"},{"i":46,"v":0.336,"d":"up"},{"i":46,"v":-0.261,"d":"down"},{"i":47,"v":0.336,"d":"up"},{"i":47,"v":-0.236,"d":"down"},{"i":48,"v":0.348,"d":"up"},{"i":48,"v":-0.187,"d":"down"},{"i":49,"v":0.311,"d":"down"},{"i":49,"v":-0.137,"d":"down"},
{"i":50,"v":0.299,"d":"down"},{"i":50,"v":-0.112,"d":"down"},{"i":51,"v":0.249,"d":"down"},{"i":51,"v":-0.124,"d":"up"},{"i":52,"v":0.236,"d":"down"},{"i":52,"v":-0.124,"d":"up"},{"i":53,"v":0.224,"d":"down"},{"i":53,"v":-0.137,"d":"up"},{"i":54,"v":0.224,"d":"up"},{"i":54,"v":-0.187,"d":"up"},
{"i":55,"v":0.249,"d":"up"},{"i":55,"v":-0.174,"d":"down"},{"i":56,"v":0.274,"d":"up"},{"i":56,"v":-0.1,"d":"down"},{"i":57,"v":0.274,"d":"up"},{"i":57,"v":-0.037,"d":"down"},{"i":58,"v":0.236,"d":"down"},{"i":58,"v":-0.012,"d":"up"},{"i":59,"v":0.174,"d":"down"},
{"i":60,"v":0.137,"d":"down"},{"i":60,"v":-0.012,"d":"up"},{"i":61,"v":0.112,"d":"down"},{"i":61,"v":-0.012,"d":"up"},{"i":62,"v":0.1,"d":"down"},{"i":62,"v":-0.025,"d":"up"},{"i":63,"v":0.1,"d":"down"},{"i":63,"v":-0.075,"d":"up"},{"i":64,"v":0.075,"d":"down"},{"i":64,"v":-0.112,"d":"up"},
{"i":65,"v":0.037,"d":"down"},{"i":65,"v":-0.012,"d":"down"},{"i":66,"v":0.012,"d":"down"},{"i":66,"v":-0.137,"d":"up"},{"i":67,"v":0.037,"d":"up"},{"i":67,"v":-0.249,"d":"up"},{"i":68,"v":0.124,"d":"up"},{"i":68,"v":-0.261,"d":"up"},{"i":69,"v":0.236,"d":"up"},{"i":69,"v":-0.174,"d":"down"},
{"i":70,"v":0.286,"d":"up"},{"i":70,"v":-0.037,"d":"down"},{"i":71,"v":0.249,"d":"down"},{"i":71,"v":-0.075,"d":"up"},{"i":72,"v":0.149,"d":"down"},{"i":72,"v":-0.1,"d":"up"},{"i":73,"v":0.05,"d":"down"},{"i":73,"v":-0.124,"d":"up"},{"i":74,"v":0.012,"d":"down"},{"i":74,"v":-0.124,"d":"up"},
{"i":75,"v":0.05,"d":"up"},{"i":75,"v":-0.224,"d":"up"},{"i":76,"v":0.062,"d":"up"},{"i":76,"v":-0.336,"d":"up"},{"i":77,"v":0.137,"d":"up"},{"i":77,"v":-0.361,"d":"up"},{"i":78,"v":0.211,"d":"up"},{"i":78,"v":-0.373,"d":"up"},{"i":79,"v":0.286,"d":"up"},{"i":79,"v":-0.41,"d":"up"},
{"i":80,"v":0.323,"d":"up"},{"i":80,"v":-0.473,"d":"up"},{"i":81,"v":0.361,"d":"up"},{"i":81,"v":-0.46,"d":"down"},{"i":82,"v":0.423,"d":"up"},{"i":82,"v":-0.398,"d":"down"},{"i":83,"v":0.448,"d":"up"},{"i":83,"v":-0.386,"d":"down"},{"i":84,"v":0.448,"d":"down"},{"i":84,"v":-0.336,"d":"down"},
{"i":85,"v":0.435,"d":"down"},{"i":85,"v":-0.236,"d":"down"},{"i":86,"v":0.398,"d":"down"},{"i":86,"v":-0.211,"d":"down"},{"i":87,"v":0.361,"d":"down"},{"i":87,"v":-0.211,"d":"up"},{"i":88,"v":0.323,"d":"down"},{"i":88,"v":-0.249,"d":"up"},{"i":89,"v":0.323,"d":"down"},{"i":89,"v":-0.286,"d":"up"},
{"i":90,"v":0.348,"d":"up"},{"i":90,"v":-0.348,"d":"up"},{"i":91,"v":0.386,"d":"up"},{"i":91,"v":-0.448,"d":"up"},{"i":92,"v":0.435,"d":"up"},{"i":92,"v":-0.46,"d":"up"},{"i":93,"v":0.51,"d":"up"},{"i":93,"v":-0.398,"d":"down"},{"i":94,"v":0.547,"d":"up"},{"i":94,"v":-0.386,"d":"down"},
{"i":95,"v":0.547,"d":"down"},{"i":95,"v":-0.311,"d":"down"},{"i":96,"v":0.522,"d":"down"},{"i":96,"v":-0.211,"d":"down"},{"i":97,"v":0.473,"d":"down"},{"i":97,"v":-0.124,"d":"down"},{"i":98,"v":0.41,"d":"down"},{"i":98,"v":-0.025,"d":"down"},{"i":99,"v":0.336,"d":"down"},{"i":99,"v":-0.05,"d":"up"},
{"i":100,"v":0.249,"d":"down"},{"i":100,"v":-0.112,"d":"up"},{"i":101,"v":0.174,"d":"down"},{"i":101,"v":-0.211,"d":"up"},{"i":102,"v":0.1,"d":"down"},{"i":102,"v":-0.274,"d":"up"},{"i":103,"v":0.025,"d":"down"},{"i":103,"v":-0.286,"d":"up"},{"i":104,"v":0.062,"d":"up"},{"i":104,"v":-0.311,"d":"up"},
{"i":105,"v":0.112,"d":"up"},{"i":105,"v":-0.311,"d":"up"},{"i":106,"v":0.162,"d":"up"},{"i":106,"v":-0.286,"d":"down"},{"i":107,"v":0.174,"d":"down"},{"i":107,"v":-0.261,"d":"down"},{"i":108,"v":0.199,"d":"up"},{"i":108,"v":-0.224,"d":"down"},{"i":109,"v":0.187,"d":"down"},{"i":109,"v":-0.174,"d":"down"},
{"i":110,"v":0.174,"d":"down"},{"i":110,"v":-0.124,"d":"down"},{"i":111,"v":0.174,"d":"down"},{"i":111,"v":-0.062,"d":"down"},{"i":112,"v":0.124,"d":"down"},{"i":113,"v":0.087,"d":"down"},{"i":113,"v":-0.012,"d":"up"},{"i":114,"v":0.037,"d":"down"},
{"i":115,"v":0.012,"d":"down"},{"i":115,"v":-0.025,"d":"up"},{"i":116,"v":0.012,"d":"down"},{"i":116,"v":-0.05,"d":"up"},{"i":117,"v":-0.174,"d":"up"},{"i":118,"v":0.012,"d":"up"},{"i":118,"v":-0.286,"d":"up"},{"i":119,"v":0.112,"d":"up"},{"i":119,"v":-0.274,"d":"down"},
{"i":120,"v":0.187,"d":"up"},{"i":120,"v":-0.249,"d":"down"},{"i":121,"v":0.236,"d":"up"},{"i":121,"v":-0.211,"d":"down"},{"i":122,"v":0.236,"d":"down"},{"i":122,"v":-0.162,"d":"down"},{"i":123,"v":0.211,"d":"down"},{"i":123,"v":-0.162,"d":"up"},{"i":124,"v":0.187,"d":"down"},{"i":124,"v":-0.149,"d":"down"},
{"i":125,"v":0.187,"d":"down"},{"i":125,"v":-0.137,"d":"down"},{"i":126,"v":0.174,"d":"down"},{"i":126,"v":-0.137,"d":"down"},{"i":127,"v":0.187,"d":"up"},{"i":127,"v":-0.075,"d":"down"},{"i":128,"v":0.187,"d":"down"},{"i":128,"v":-0.012,"d":"down"},{"i":129,"v":0.149,"d":"down"},
{"i":130,"v":0.112,"d":"down"},{"i":130,"v":-0.012,"d":"down"},{"i":131,"v":0.075,"d":"down"},{"i":131,"v":-0.05,"d":"up"},{"i":132,"v":0.05,"d":"down"},{"i":132,"v":-0.025,"d":"down"},{"i":133,"v":0.037,"d":"down"},{"i":133,"v":-0.037,"d":"up"},{"i":134,"v":0.037,"d":"down"},{"i":134,"v":-0.137,"d":"up"},
{"i":135,"v":0.062,"d":"up"},{"i":135,"v":-0.249,"d":"up"},{"i":136,"v":0.137,"d":"up"},{"i":136,"v":-0.348,"d":"up"},{"i":137,"v":0.236,"d":"up"},{"i":137,"v":-0.41,"d":"up"},{"i":138,"v":0.323,"d":"up"},{"i":138,"v":-0.41,"d":"up"},{"i":139,"v":0.398,"d":"up"},{"i":139,"v":-0.423,"d":"up"},
{"i":140,"v":0.435,"d":"up"},{"i":140,"v":-0.4806,"d":"up"},{"i":141,"v":0.46,"d":"up"},{"i":142,"v":0.4945,"d":"up"}
]
},
"vconcat":[
{
"width":1225,"height":471,
"encoding":{"x":{"field":"i","type":"quantitative","scale":{"domain":[-0.04,153.08],"padding":0},"axis":{"values":[4,8,12,16,20,24,28,32,36,40,44,48,52,56,60,64,68,72,76,80,84,88,92,96,100,104,108,112,116,120,124,128,132,136,140,144,148,152],"grid":true,"labels":false,"ticks":false}}},
"layer":[
{"data":{"name":"candles"},"mark":{"type":"rule","color":"#000000","strokeWidth":1,"clip":true},
"encoding":{"y":{"field":"h","type":"quantitative","scale":{"domain":[147.3,151.411]},"axis":{"orient":"right","values":[147.85,148.13,148.41,148.69,148.97,149.25,149.53,149.81,150.09,150.37,150.65,150.93,151.21],"format":".3f","grid":true,"tickSize":4,"labelPadding":2}},"y2":{"field":"l"}}},
{"data":{"name":"candles"},"mark":{"type":"bar","orient":"vertical","size":4,"stroke":"#000000","strokeWidth":1,"clip":true},
"encoding":{"y":{"field":"o","type":"quantitative","scale":{"domain":[147.3,151.411]},"axis":null},"y2":{"field":"c"},"fill":{"condition":{"test":"datum.c>datum.o","value":"#ffffff"},"value":"#000000"}}},
{"data":{"name":"fractalUp"},"mark":{"type":"point","shape":"M0,-1 L0,0.5 L-1,1 Z","filled":true,"size":144,"opacity":1,"color":"#8c8c8c","clip":true},
"encoding":{"y":{"field":"p","type":"quantitative","scale":{"domain":[147.3,151.411]},"axis":null}}},
{"data":{"name":"fractalUp"},"mark":{"type":"point","shape":"M0,-1 L1,1 L0,0.5 Z","filled":true,"size":144,"opacity":1,"color":"#d4d6de","clip":true},
"encoding":{"y":{"field":"p","type":"quantitative","scale":{"domain":[147.3,151.411]},"axis":null}}},
{"data":{"name":"fractalDown"},"mark":{"type":"point","shape":"M0,1 L0,-0.5 L-1,-1 Z","filled":true,"size":144,"opacity":1,"color":"#d8dae0","clip":true},
"encoding":{"y":{"field":"p","type":"quantitative","scale":{"domain":[147.3,151.411]},"axis":null}}},
{"data":{"name":"fractalDown"},"mark":{"type":"point","shape":"M0,1 L1,-1 L0,-0.5 Z","filled":true,"size":144,"opacity":1,"color":"#989898","clip":true},
"encoding":{"y":{"field":"p","type":"quantitative","scale":{"domain":[147.3,151.411]},"axis":null}}},
{"data":{"name":"ma"},"mark":{"type":"line","color":"#0a46d8","strokeWidth":2,"clip":true},
"encoding":{"y":{"field":"jaw","type":"quantitative","scale":{"domain":[147.3,151.411]},"axis":null}}},
{"data":{"name":"ma"},"mark":{"type":"line","color":"#ff0000","strokeWidth":2,"clip":true},
"encoding":{"y":{"field":"teeth","type":"quantitative","scale":{"domain":[147.3,151.411]},"axis":null}}},
{"data":{"name":"ma"},"mark":{"type":"line","color":"#00ff00","strokeWidth":2,"clip":true},
"encoding":{"y":{"field":"lips","type":"quantitative","scale":{"domain":[147.3,151.411]},"axis":null}}},
{"data":{"name":"last"},"mark":{"type":"rule","color":"#dd0000","strokeWidth":1},
"encoding":{"x":{"datum":-0.04,"type":"quantitative","scale":{"domain":[-0.04,153.08],"padding":0}},"x2":{"datum":153.08},"y":{"field":"p","type":"quantitative","scale":{"domain":[147.3,151.411]},"axis":null}}},
{"data":{"name":"signal"},"mark":{"type":"point","shape":"M-0.45,-1 L0.45,-1 L0.45,0.15 L0.85,0.15 L0,1 L-0.85,0.15 L-0.45,0.15 Z","filled":true,"size":361,"opacity":1,"fill":"#ffffff","stroke":"#ff3a3a","strokeWidth":1.5},
"encoding":{"y":{"field":"p","type":"quantitative","scale":{"domain":[147.3,151.411]},"axis":null}}},
{"data":{"name":"last"},"mark":{"type":"rect","color":"#c40000"},
"encoding":{"x":{"field":"i0","type":"quantitative","scale":{"domain":[-0.04,153.08],"padding":0}},"x2":{"field":"i1"},"y":{"field":"lo","type":"quantitative","scale":{"domain":[147.3,151.411]},"axis":null},"y2":{"field":"hi"}}},
{"data":{"name":"last"},"mark":{"type":"text","align":"left","baseline":"middle","color":"#ffffff","fontSize":9.5},
"encoding":{"y":{"field":"p","type":"quantitative","scale":{"domain":[147.3,151.411]},"axis":null},"text":{"field":"t"}}}
]
},
{
"width":1225,"height":100,
"encoding":{"x":{"field":"i","type":"quantitative","scale":{"domain":[-0.04,153.08],"padding":0},"axis":{"values":[4,8,12,16,20,24,28,32,36,40,44,48,52,56,60,64,68,72,76,80,84,88,92,96,100,104,108,112,116,120,124,128,132,136,140,144,148,152],"grid":true,"labels":false,"ticks":false}}},
"layer":[
{"data":{"name":"ao"},"mark":{"type":"bar","orient":"vertical","size":4,"clip":true},
"encoding":{"y":{"field":"v","type":"quantitative","scale":{"domain":[-1.4363,0.8769]},"axis":{"orient":"right","values":[-1.4363,0,0.8769],"format":".4f","grid":true,"ticks":false,"labelPadding":5,"labelBaseline":{"condition":[{"test":"datum.value>0","value":"top"},{"test":"datum.value<0","value":"bottom"}],"value":"middle"}}},"color":{"field":"d","type":"nominal","scale":{"domain":["up","down"],"range":["#008000","#ff0000"]},"legend":null}}},
{"data":{"name":"aoTitle"},"mark":{"type":"text","align":"left","baseline":"middle","fontSize":9.5,"color":"#000000"},
"encoding":{"y":{"field":"v","type":"quantitative","scale":{"domain":[-1.4363,0.8769]},"axis":null},"text":{"field":"t"}}}
]
},
{
"width":1225,"height":100,
"encoding":{"x":{"field":"i","type":"quantitative","scale":{"domain":[-0.04,153.08],"padding":0},"axis":{"values":[4,8,12,16,20,24,28,32,36,40,44,48,52,56,60,64,68,72,76,80,84,88,92,96,100,104,108,112,116,120,124,128,132,136,140,144,148,152],"grid":true,"labels":false,"ticks":false}}},
"layer":[
{"data":{"name":"ac"},"mark":{"type":"bar","orient":"vertical","size":4,"clip":true},
"encoding":{"y":{"field":"v","type":"quantitative","scale":{"domain":[-0.42564,0.51965]},"axis":{"orient":"right","values":[-0.42564,0,0.51965],"labelExpr":"datum.value==0?'0.0000':format(datum.value,'.5f')","grid":true,"ticks":false,"labelPadding":5,"labelBaseline":{"condition":[{"test":"datum.value>0","value":"top"},{"test":"datum.value<0","value":"bottom"}],"value":"middle"}}},"color":{"field":"d","type":"nominal","scale":{"domain":["up","down"],"range":["#008000","#ff0000"]},"legend":null}}},
{"data":{"name":"acTitle"},"mark":{"type":"text","align":"left","baseline":"middle","fontSize":9.5,"color":"#000000"},
"encoding":{"y":{"field":"v","type":"quantitative","scale":{"domain":[-0.42564,0.51965]},"axis":null},"text":{"field":"t"}}}
]
},
{
"width":1225,"height":100,
"encoding":{"x":{"field":"i","type":"quantitative","scale":{"domain":[-0.04,153.08],"padding":0},"axis":{"values":[0,4,8,12,16,20,24,28,32,36,40,44,48,52,56,60,64,68,72,76,80,84,88,92,96,100,104,108,112,116,120,124,128,132,136,140,144,148,152],"grid":true,"gridOpacity":{"condition":{"test":"datum.value==0","value":0},"value":1},"tickSize":4,"tickOpacity":{"condition":{"test":"datum.value%8==0&&datum.value<=136","value":1},"value":0},"labelAlign":"left","labelPadding":4,"labelExpr":"{'0':'26 Feb 2025','8':'27 Feb 06:00','16':'27 Feb 14:00','24':'27 Feb 22:00','32':'28 Feb 06:00','40':'28 Feb 14:00','48':'28 Feb 22:00','56':'3 Mar 06:00','64':'3 Mar 14:00','72':'3 Mar 22:00','80':'4 Mar 06:00','88':'4 Mar 14:00','96':'4 Mar 22:00','104':'5 Mar 06:00','112':'5 Mar 14:00','120':'5 Mar 22:00','128':'6 Mar 06:00','136':'6 Mar 14:00'}[datum.value]||''"}}},
"layer":[
{"data":{"name":"gator"},"mark":{"type":"bar","orient":"vertical","size":4,"clip":true},
"encoding":{"y":{"field":"v","type":"quantitative","scale":{"domain":[-0.5886,0.6553]},"axis":{"orient":"right","values":[-0.5886,0,0.6553],"format":".4f","grid":true,"ticks":false,"labelPadding":5,"labelBaseline":{"condition":[{"test":"datum.value>0","value":"top"},{"test":"datum.value<0","value":"bottom"}],"value":"middle"}}},"color":{"field":"d","type":"nominal","scale":{"domain":["up","down"],"range":["#008000","#ff0000"]},"legend":null}}},
{"data":{"name":"zero"},"mark":{"type":"rule","color":"#e8e8e8","strokeDash":[4,4],"strokeWidth":1},
"encoding":{"x":{"datum":-0.04,"type":"quantitative","scale":{"domain":[-0.04,153.08],"padding":0}},"x2":{"datum":153.08},"y":{"field":"v","type":"quantitative","scale":{"domain":[-0.5886,0.6553]},"axis":null}}},
{"data":{"name":"gatorTitle"},"mark":{"type":"text","align":"left","baseline":"middle","fontSize":9.5,"color":"#000000"},
"encoding":{"y":{"field":"v","type":"quantitative","scale":{"domain":[-0.5886,0.6553]},"axis":null},"text":{"field":"t"}}}
]
}
]
}
